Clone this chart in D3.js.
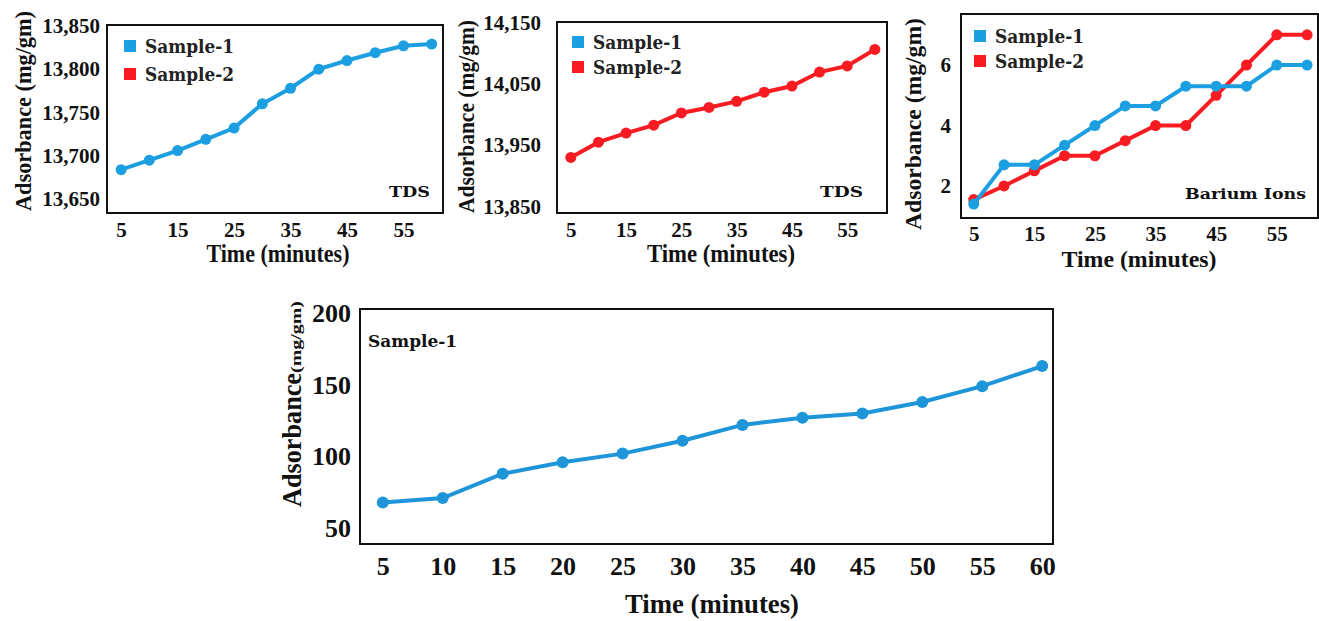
<!DOCTYPE html>
<html>
<head>
<script src="https://cdnjs.cloudflare.com/ajax/libs/d3/7.8.5/d3.min.js"></script>
<style>
  body { margin: 0; background: #fff; }
  svg { font-family: "Liberation Serif", "Times New Roman", serif; font-weight: bold; }
  .tick text { font-weight: bold; fill: #111; }
  .tag { font-family: "DejaVu Serif", serif; font-weight: bold; }
</style>
</head>
<body>
<div id="chart"></div>
<script>
// time points (minutes)
var times = [5, 10, 15, 20, 25, 30, 35, 40, 45, 50, 55, 60];

// TDS
var tdsSample1 = [13684, 13695, 13706, 13719, 13732, 13760, 13778, 13800, 13810, 13819, 13827, 13829];
var tdsSample2 = [13930, 13955, 13970, 13983, 14003, 14012, 14022, 14037, 14047, 14070, 14080, 14107];

// Barium ions
var bariumSample1 = [1.4, 2.7, 2.7, 3.35, 4.0, 4.65, 4.65, 5.3, 5.3, 5.3, 6.0, 6.0];
var bariumSample2 = [1.55, 2.0, 2.5, 3.0, 3.0, 3.5, 4.0, 4.0, 5.0, 6.0, 7.0, 7.0];

// Sulphate ions
var sulphateSample1 = [68, 71, 88, 96, 102, 111, 122, 127, 130, 138, 149, 163];

// tick labels
var topXTicks = [5, 15, 25, 35, 45, 55];
var tds1YTicks = [13650, 13700, 13750, 13800, 13850];
var tds2YTicks = [13850, 13950, 14050, 14150];
var bariumYTicks = [2, 4, 6];
var sulphateYTicks = [50, 100, 150, 200];

var blue = "#1c9fe0", red = "#f81c22";

var svg = d3.select("#chart").append("svg")
  .attr("width", 1319)
  .attr("height", 621);

var fmt = d3.format(",");

function panel(o) {
  var x = d3.scaleLinear().domain(o.xDomain).range([o.left, o.right]);
  var y = d3.scaleLinear().domain(o.yDomain).range([o.bottom, o.top]);
  var g = svg.append("g");

  // axes (no tick marks, just labels)
  var xa = g.append("g")
    .attr("transform", "translate(0," + o.bottom + ")")
    .call(d3.axisBottom(x).tickValues(o.xTicks).tickSize(0).tickPadding(o.xPad));
  xa.select(".domain").remove();
  xa.selectAll("text").style("font-size", o.tickSize + "px").attr("font-family", "Liberation Serif");

  var ya = g.append("g")
    .attr("transform", "translate(" + o.left + ",0)")
    .call(d3.axisLeft(y).tickValues(o.yTicks).tickSize(0).tickPadding(o.yPad).tickFormat(fmt));
  ya.select(".domain").remove();
  ya.selectAll("text").style("font-size", o.tickSize + "px").attr("font-family", "Liberation Serif");

  // frame
  g.append("rect")
    .attr("x", o.left).attr("y", o.top)
    .attr("width", o.right - o.left).attr("height", o.bottom - o.top)
    .attr("fill", "none").attr("stroke", "#111").attr("stroke-width", 2);

  var line = d3.line()
    .x(function (d, i) { return x(times[i]); })
    .y(function (d) { return y(d); });

  o.series.forEach(function (s) {
    g.append("path")
      .datum(s.values)
      .attr("d", line)
      .attr("fill", "none")
      .attr("stroke", s.color)
      .attr("stroke-width", o.lineW);
    g.selectAll(null)
      .data(s.values)
      .enter().append("circle")
      .attr("cx", function (d, i) { return x(times[i]); })
      .attr("cy", function (d) { return y(d); })
      .attr("r", o.r)
      .attr("fill", s.color);
  });

  // legend
  if (o.legend) {
    [["Sample-1", blue], ["Sample-2", red]].forEach(function (l, i) {
      var ly = o.legend.y + i * o.legend.step;
      g.append("rect")
        .attr("x", o.legend.x).attr("y", ly - 12)
        .attr("width", 12).attr("height", 12)
        .attr("fill", l[1]);
      g.append("text")
        .attr("class", "tag")
        .attr("x", o.legend.x + 21).attr("y", ly + 1)
        .attr("textLength", 89).attr("lengthAdjust", "spacingAndGlyphs")
        .style("font-size", "19px").attr("fill", "#222")
        .text(l[0]);
    });
  }

  // label in corner
  g.append("text")
    .attr("class", "tag")
    .attr("x", o.label.x).attr("y", o.label.y)
    .attr("textLength", o.label.w).attr("lengthAdjust", "spacingAndGlyphs")
    .style("font-size", o.label.size + "px").attr("fill", "#111")
    .text(o.label.text);

  // x title
  g.append("text")
    .attr("x", o.xTitle.x).attr("y", o.xTitle.y)
    .attr("text-anchor", "middle")
    .attr("textLength", o.xTitle.w).attr("lengthAdjust", "spacingAndGlyphs")
    .style("font-size", o.xTitle.size + "px").attr("fill", "#111")
    .text("Time (minutes)");

  // y title
  var yt = g.append("text")
    .attr("transform", "translate(" + o.yTitle.x + "," + o.yTitle.y + ") rotate(-90)")
    .attr("fill", "#111");
  if (o.yTitle.split) {
    yt.append("tspan").style("font-size", o.yTitle.size + "px")
      .attr("textLength", o.yTitle.w1).attr("lengthAdjust", "spacingAndGlyphs").text("Adsorbance");
    yt.append("tspan").style("font-size", o.yTitle.size2 + "px")
      .attr("textLength", o.yTitle.w2).attr("lengthAdjust", "spacingAndGlyphs").text("(mg/gm)");
  } else {
    yt.attr("textLength", o.yTitle.w).attr("lengthAdjust", "spacingAndGlyphs")
      .style("font-size", o.yTitle.size + "px")
      .text("Adsorbance (mg/gm)");
  }
}

// TDS sample-1
panel({
  left: 107, right: 443, top: 25, bottom: 213,
  xDomain: [2.5, 62], yDomain: [13634, 13851],
  xTicks: topXTicks, yTicks: tds1YTicks,
  tickSize: 21, xPad: 9, yPad: 7, lineW: 4, r: 5.5,
  series: [{ values: tdsSample1, color: blue }],
  legend: { x: 124, y: 52, step: 28 },
  label: { text: "TDS", x: 389, y: 197, w: 41, size: 14 },
  xTitle: { x: 278, y: 262, w: 143, size: 25 },
  yTitle: { x: 31, y: 211, w: 200, size: 23 }
});

// TDS sample-2
panel({
  left: 557, right: 887, top: 22, bottom: 213,
  xDomain: [2.5, 62.2], yDomain: [13839, 14152],
  xTicks: topXTicks, yTicks: tds2YTicks,
  tickSize: 21, xPad: 9, yPad: 16, lineW: 4, r: 5.5,
  series: [{ values: tdsSample2, color: red }],
  legend: { x: 572, y: 48, step: 25 },
  label: { text: "TDS", x: 820, y: 197, w: 43, size: 14 },
  xTitle: { x: 721, y: 262, w: 148, size: 25 },
  yTitle: { x: 474, y: 213, w: 193, size: 23 }
});

// Barium ions
panel({
  left: 961, right: 1318, top: 14, bottom: 218,
  xDomain: [2.9, 61.8], yDomain: [0.94, 7.69],
  xTicks: topXTicks, yTicks: bariumYTicks,
  tickSize: 21, xPad: 8, yPad: 10, lineW: 4, r: 5.5,
  series: [{ values: bariumSample2, color: red }, { values: bariumSample1, color: blue }],
  legend: { x: 974, y: 42, step: 25 },
  label: { text: "Barium Ions", x: 1185, y: 199, w: 121, size: 14 },
  xTitle: { x: 1139, y: 267, w: 155, size: 24 },
  yTitle: { x: 921, y: 230, w: 212, size: 23 }
});

// Sulphate ions
panel({
  left: 360, right: 1053, top: 309, bottom: 544,
  xDomain: [3.1, 60.9], yDomain: [39, 202.8],
  xTicks: times, yTicks: sulphateYTicks,
  tickSize: 26, xPad: 13, yPad: 9, lineW: 4, r: 6,
  series: [{ values: sulphateSample1, color: "#1f95d9" }],
  label: { text: "Sample-1", x: 368, y: 347, w: 89, size: 16 },
  xTitle: { x: 712, y: 613, w: 174, size: 28 },
  yTitle: { x: 301, y: 507, split: true, size: 28, size2: 15, w1: 134, w2: 72 }
});
</script>
</body>
</html>
